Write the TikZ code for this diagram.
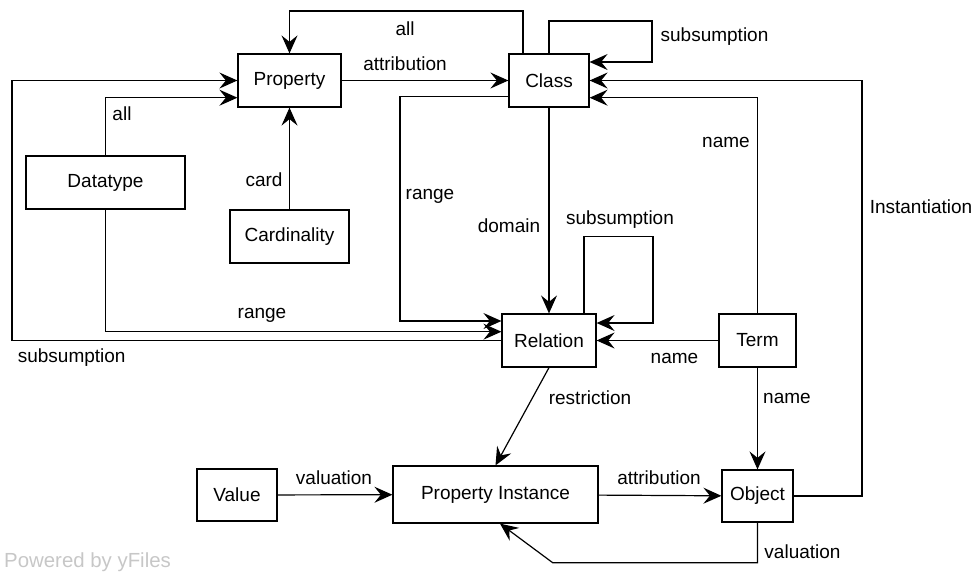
\documentclass[tikz,border=0pt]{standalone}
\usepackage{fontspec}
\setmainfont{Liberation Sans}
\usetikzlibrary{arrows.meta}
\begin{document}
\begin{tikzpicture}[x=1pt,y=-1pt,
  box/.style={draw,line width=1.2pt,inner sep=0pt,font=\fontsize{19}{22}\selectfont},
  lbl/.style={inner sep=0pt,font=\fontsize{19}{22}\selectfont},
  arr/.style={line width=1.2pt,-{Stealth[length=18pt,width=16pt,inset=6.5pt]}},
  ln/.style={line width=1.2pt}]
\useasboundingbox (0,0) rectangle (976,574);
% nodes
\node[box,minimum width=103pt,minimum height=53pt] (Property) at (289.5,80.5) {Property};
\node[box,minimum width=80pt,minimum height=53pt] (Class) at (549,80.5) {Class};
\node[box,minimum width=159pt,minimum height=53pt] (Datatype) at (105.5,182.5) {Datatype};
\node[box,minimum width=119pt,minimum height=53pt] (Cardinality) at (289.5,236.5) {Cardinality};
\node[box,minimum width=94pt,minimum height=53pt] (Relation) at (549,340.5) {Relation};
\node[box,minimum width=77pt,minimum height=53pt] (Term) at (757.5,340.5) {Term};
\node[box,minimum width=71pt,minimum height=52pt] (Object) at (757.5,496) {Object};
\node[box,minimum width=205pt,minimum height=57pt] (PropInst) at (495.5,494.5) {Property Instance};
\node[box,minimum width=80pt,minimum height=52pt] (Value) at (237,495) {Value};
% coordinates
\coordinate (sL) at (12,80.5);
% edges
\draw[arr] ([xshift=-26pt]Class.north) |- (400,11) -| (Property.north);
\node[lbl] (l1) at (405,29) {all};
\draw[arr] (Property) -- (Class);
\node[lbl] (l2) at (405,64) {attribution};
\draw[arr] (Class.north) |- (652,21) |- ([yshift=18.5pt]Class.east);
\node[lbl] (l3) at (714.5,37) {subsumption};
\draw[arr] (Object.east) -| (862,300) |- (Class.east);
\node[lbl] (l4) at (921,207) {Instantiation};
\draw[arr] (Term.north) |- ([yshift=-17.2pt]Class.east);
\node[lbl] (l5) at (726,142.7) {name};
\draw[arr] (Class.south) -- (Relation.north);
\node[lbl] (l6) at (509,226) {domain};
\draw[arr] ([yshift=-16pt]Class.west) -| (400,321) -- ([yshift=19.5pt]Relation.west);
\node[lbl] (l7) at (430,196) {range};
\draw[arr] ([xshift=35pt]Relation.north) |- (653,236.7) |- ([yshift=17.5pt]Relation.east);
\node[lbl] (l8) at (620,220) {subsumption};
\draw[arr] (Datatype.north) |- ([yshift=-17.2pt]Property.west);
\node[lbl] (l9) at (122,114) {all};
\draw[arr] (Datatype.south) |- ([yshift=8.8pt]Relation.west);
\node[lbl] (l10) at (262,315.7) {range};
\draw[arr] (Relation.west) -| (sL) -- (Property.west);
\node[lbl] (l11) at (71.7,358) {subsumption};
\draw[arr] (Cardinality) -- (Property);
\node[lbl] (l12) at (264,180) {card};
\draw[arr] (Term) -- (Relation);
\node[lbl] (l13) at (674.5,358) {name};
\draw[arr] (Term) -- (Object);
\node[lbl] (l14) at (787,398) {name};
\draw[arr] (Relation.south) -- (PropInst.north);
\node[lbl] (l15) at (590,398) {restriction};
\draw[arr] (Value) -- (PropInst);
\node[lbl] (l16) at (334,478) {valuation};
\draw[arr] (PropInst) -- (Object);
\node[lbl] (l17) at (659,478) {attribution};
\draw[arr] (Object.south) |- (552.7,562.7) -- ([xshift=4.5pt]PropInst.south);
\node[lbl] (l18) at (802.5,551.7) {valuation};
\node[lbl,anchor=west,text=black!22,font=\fontsize{20.4}{24}\selectfont] (yf) at (4,562.3) {Powered by yFiles};
\end{tikzpicture}
\end{document}
